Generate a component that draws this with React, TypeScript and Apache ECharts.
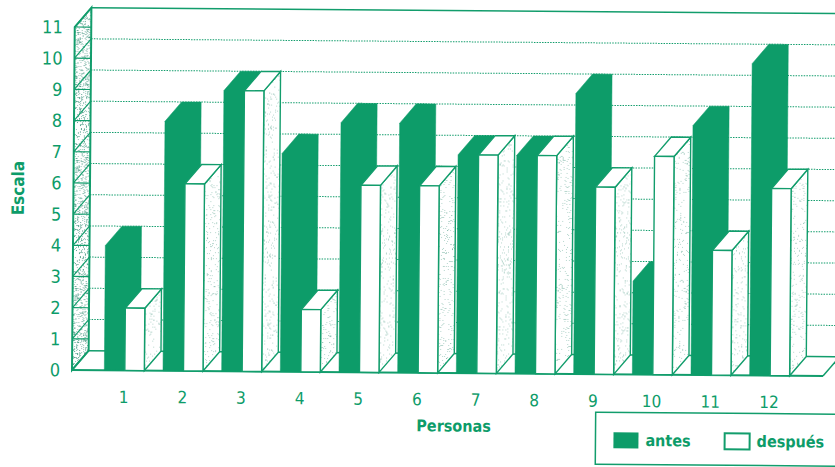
import React, { useEffect, useRef } from "react";
import * as echarts from "echarts";

const categories = ["1", "2", "3", "4", "5", "6", "7", "8", "9", "10", "11", "12"];
const antes = [4, 8, 9, 7, 8, 8, 7, 7, 9, 3, 8, 10];
const despues = [2, 6, 9, 2, 6, 6, 7, 7, 6, 7, 4, 6];
const yTicks = [0, 1, 2, 3, 4, 5, 6, 7, 8, 9, 10, 11];

const GREEN = "#0d9c69";
const LINE = "#129d6c";
const FONT = '"DejaVu Sans Condensed", "Liberation Sans", sans-serif';
const DX = 16.5;
const DY = -19.5;
const BAR = 19.5;

function stipple(count: number, alpha: number) {
  const size = 128;
  const c = document.createElement("canvas");
  c.width = size;
  c.height = size;
  const g = c.getContext("2d")!;
  g.fillStyle = "#ffffff";
  g.fillRect(0, 0, size, size);
  g.fillStyle = `rgba(13,120,90,${alpha})`;
  let s = 12345;
  const next = () => {
    s = (Math.imul(s, 1103515245) + 12345) & 0x7fffffff;
    return (s >>> 20) % size;
  };
  for (let i = 0; i < count; i++) {
    const x = next();
    const y = next();
    g.fillRect(x, y, 1, 1);
  }
  return c;
}

export default function App() {
  const ref = useRef<HTMLDivElement>(null);
  useEffect(() => {
    const chart = echarts.init(ref.current!, undefined, { renderer: "svg" });
    const sideFill = { image: stipple(1300, 0.3), repeat: "repeat" };
    const wallFill = { image: stipple(4500, 0.45), repeat: "repeat" };

    const line = (x1: number, y1: number, x2: number, y2: number, style: any) => ({
      type: "line",
      shape: { x1, y1, x2, y2 },
      style: { stroke: LINE, lineWidth: 1.5, ...style },
    });

    const frameItem = (params: any, api: any) => {
      const v = api.value(1);
      const cs = params.coordSys;
      const x0 = cs.x - 23;
      const xEnd = cs.x + cs.width + 24;
      const far = cs.x + cs.width + 60;
      const y = api.coord([0, v])[1];
      const yb = api.coord([0, 0])[1];
      const yt = api.coord([0, 11])[1];
      const kids: any[] = [];
      if (v === 0) {
        kids.push({
          type: "polygon",
          shape: { points: [[x0, yb], [x0, yt], [x0 + DX, yt + DY], [x0 + DX, yb + DY]] },
          style: { fill: wallFill, stroke: LINE, lineWidth: 2 },
        });
        kids.push(line(x0, yb, xEnd, yb, { lineWidth: 2 }));
        kids.push(line(xEnd, yb, xEnd + DX, yb + DY, {}));
        kids.push(line(x0 + DX, yb + DY, far, yb + DY, {}));
      } else if (v === 11) {
        kids.push(line(x0 + DX, y + DY, far, y + DY, {}));
      } else {
        kids.push(line(x0 + DX, y + DY, far, y + DY, { lineWidth: 1, lineDash: [1.5, 1.2] }));
      }
      kids.push(line(x0, y, x0 + DX, y + DY, { lineWidth: 1.2 }));
      if (v > 0) kids.push(line(x0, y, x0 + DX, y, { lineWidth: 1.2 }));
      return { type: "group", children: kids };
    };

    const barItem = (solid: boolean) => (_p: any, api: any) => {
      const c = api.coord([api.value(0), 0]);
      const top = api.coord([api.value(0), api.value(1)])[1];
      const yb = c[1];
      const xl = solid ? c[0] - BAR - 0.5 : c[0] + 0.5;
      const xr = xl + BAR;
      if (solid) {
        return {
          type: "polygon",
          shape: {
            points: [[xl, yb], [xl, top], [xl + DX, top + DY], [xr + DX, top + DY], [xr + DX, yb + DY], [xr, yb]],
          },
          style: { fill: GREEN, stroke: GREEN, lineWidth: 0.5 },
        };
      }
      const st = { stroke: LINE, lineWidth: 1.4 };
      return {
        type: "group",
        children: [
          {
            type: "polygon",
            shape: { points: [[xr, yb], [xr, top], [xr + DX, top + DY], [xr + DX, yb + DY]] },
            style: { fill: sideFill, ...st },
          },
          {
            type: "polygon",
            shape: { points: [[xl, top], [xl + DX, top + DY], [xr + DX, top + DY], [xr, top]] },
            style: { fill: "#fff", ...st },
          },
          {
            type: "polygon",
            shape: { points: [[xl, yb], [xl, top], [xr, top], [xr, yb]] },
            style: { fill: "#fff", ...st },
          },
        ],
      };
    };

    chart.setOption({
      animation: false,
      backgroundColor: "#fff",
      textStyle: { fontFamily: FONT },
      grid: { left: 95, top: 27, width: 704, height: 343, containLabel: false, outerBoundsMode: "none" },
      legend: {
        data: [
          { name: "antes", icon: "rect" },
          { name: "después", icon: "rect" },
        ],
        left: 596,
        top: 408,
        orient: "horizontal",
        itemWidth: 25,
        itemHeight: 16,
        itemGap: 33,
        padding: [19, 60, 15, 18],
        borderColor: LINE,
        borderWidth: 1.5,
        selectedMode: false,
        textStyle: { color: GREEN, fontFamily: FONT, fontSize: 16, fontWeight: "bold", padding: [0, 0, 0, 2] },
      },
      xAxis: {
        type: "category",
        data: categories,
        axisLine: { show: false },
        axisTick: { show: false },
        splitLine: { show: false },
        axisLabel: { color: GREEN, fontSize: 17, fontFamily: FONT, margin: 18, padding: [0, 1, 0, 0] },
        name: "Personas",
        nameLocation: "middle",
        nameGap: 45,
        nameMoveOverlap: false,
        nameTextStyle: { color: GREEN, fontSize: 16, fontWeight: "bold", fontFamily: FONT, padding: [0, 0, 0, 14] },
      },
      yAxis: {
        type: "value",
        min: 0,
        max: 11,
        interval: 1,
        axisLine: { show: false },
        axisTick: { show: false },
        splitLine: { show: false },
        axisLabel: { color: GREEN, fontSize: 18, fontFamily: FONT, margin: 35 },
        name: "Escala",
        nameLocation: "middle",
        nameGap: 70,
        nameMoveOverlap: false,
        nameTextStyle: { color: GREEN, fontSize: 17, fontWeight: "bold", fontFamily: FONT, padding: [0, 0, 0, 20] },
      },
      series: [
        {
          name: "marco",
          type: "custom",
          renderItem: frameItem,
          data: yTicks.map((v) => [categories[0], v]),
          encode: { x: 0, y: 1 },
          z: 1,
          silent: true,
        },
        {
          name: "antes",
          type: "custom",
          renderItem: barItem(true),
          data: antes.map((v, i) => [categories[i], v]),
          encode: { x: 0, y: 1 },
          itemStyle: { color: GREEN },
          z: 2,
          silent: true,
        },
        {
          name: "después",
          type: "custom",
          renderItem: barItem(false),
          data: despues.map((v, i) => [categories[i], v]),
          encode: { x: 0, y: 1 },
          itemStyle: { color: "#fff", borderColor: LINE, borderWidth: 1.5 },
          z: 3,
          silent: true,
        },
      ],
    });
    return () => chart.dispose();
  }, []);

  return (
    <div style={{ position: "absolute", left: 0, top: 0, width: 835, height: 467, overflow: "hidden", background: "#fff" }}>
      <div
        ref={ref}
        style={{ width: 1000, height: 480, transform: "rotate(0.46deg)", transformOrigin: "72px 370px" }}
      />
    </div>
  );
}
